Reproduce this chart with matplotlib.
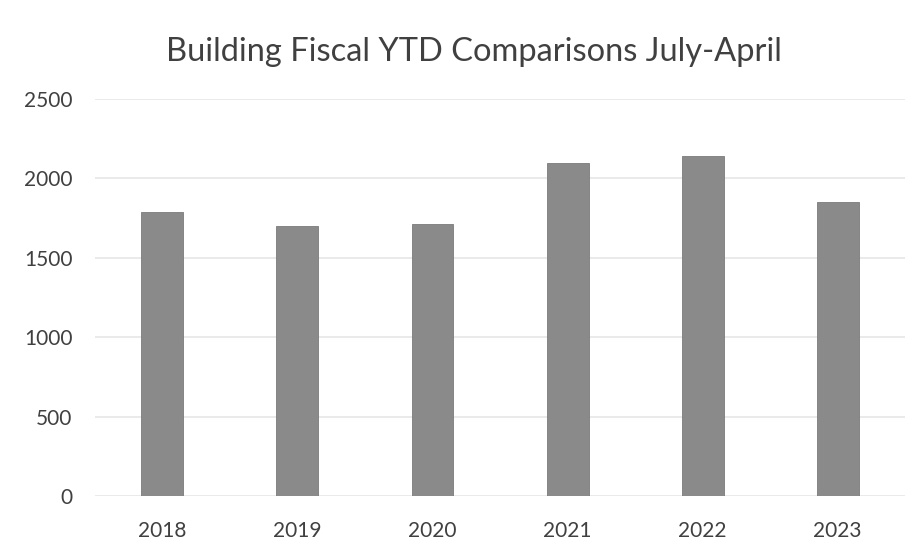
import numpy as np
import matplotlib
matplotlib.use("Agg")
from matplotlib import pyplot as plt

years = ["2018", "2019", "2020", "2021", "2022", "2023"]
permits = [1790, 1700, 1710, 2095, 2140, 1850]

plt.rcParams['font.family'] = ['Lato', 'DejaVu Sans']

fig = plt.figure(figsize=(9.2, 5.52), dpi=100)
ax = fig.add_axes([0.103, 0.101, 0.881, 0.72])

x = np.arange(len(years))
ax.bar(x, permits, width=0.31, color="#8a8a8a", edgecolor="#7a7a7a", linewidth=0.6, zorder=3)

ax.set_xlim(-0.5, len(years) - 0.5)
ax.set_ylim(0, 2500)
ax.set_yticks(np.arange(0, 2501, 500))
ax.set_xticks(x)
ax.set_xticklabels(years)
ax.yaxis.grid(True, color="#e6e6e6", linewidth=1.2, zorder=0)
ax.tick_params(axis="both", length=0, labelsize=15, colors="#404040")
ax.tick_params(axis="x", pad=18)
ax.tick_params(axis="y", pad=16)
for s in ax.spines.values():
	s.set_visible(False)

fig.text(0.515, 0.905, "Building Fiscal YTD Comparisons July-April", ha="center", va="center", fontsize=23.5, color="#404040")

plt.savefig("out.png", dpi=100)
